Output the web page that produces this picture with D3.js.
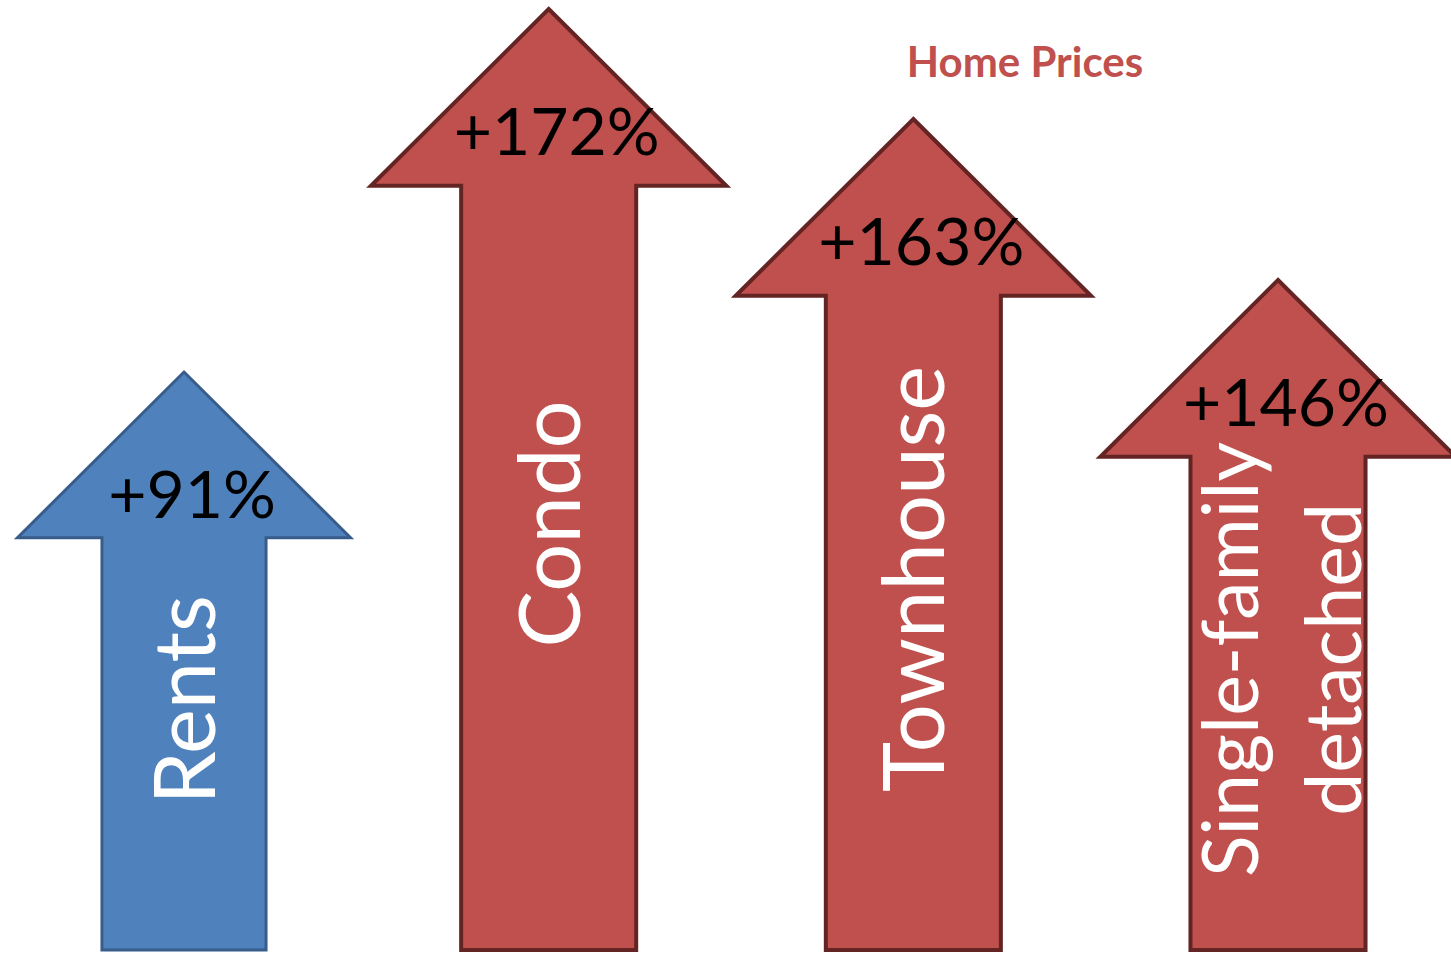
<!DOCTYPE html>
<html>
<head>
<meta charset="utf-8">
<script src="https://cdn.jsdelivr.net/npm/d3@7"></script>
<style>
  html, body { margin: 0; padding: 0; background: #fff; }
  svg { display: block; }
</style>
</head>
<body>
<svg id="chart"></svg>
<script>
// data
const categories = ["Rents", "Condo", "Townhouse", "Single-family detached"];
const labelLines = [["Rents"], ["Condo"], ["Townhouse"], ["Single-family", "detached"]];
const changes = [91, 172, 163, 146];
const groups = ["Rents", "Home Prices", "Home Prices", "Home Prices"];
const groupTitle = "Home Prices";

const width = 1451;
const height = 953;

const palette = {
    "Rents": { fill: "#4f81bd", stroke: "#385d8a", sw: 3, shaft: 0.45 },
    "Home Prices": { fill: "#c0504d", stroke: "#632423", sw: 4, shaft: 0.48 }
};

const rows = categories.map((c, i) => ({
    name: c,
    lines: labelLines[i],
    value: changes[i],
    group: groups[i]
}));

const svg = d3.select("#chart")
    .attr("width", width)
    .attr("height", height);

const xScale = d3.scalePoint()
    .domain(categories)
    .range([184, 1278]);

// arrows are drawn as a pictograph: tip heights are not proportional,
// so the scale is piecewise over the sorted values
const sortedVals = [0, ...d3.sort(changes)];
const yScale = d3.scaleLinear()
    .domain(sortedVals)
    .range([950, 372, 280, 119, 9]);

const line = d3.line();

function dims(d) {
    const shaftW = xScale.step() * palette[d.group].shaft;
    return { shaftW, headW: shaftW * 2.03, headH: shaftW * 1.01 };
}

function arrowPoints(d) {
    const { shaftW, headW, headH } = dims(d);
    const cx = xScale(d.name);
    const tip = yScale(d.value);
    const base = tip + headH;
    const bottom = yScale(0);
    return [
        [cx, tip],
        [cx + headW / 2, base],
        [cx + shaftW / 2, base],
        [cx + shaftW / 2, bottom],
        [cx - shaftW / 2, bottom],
        [cx - shaftW / 2, base],
        [cx - headW / 2, base]
    ];
}

const arrows = svg.selectAll(".arrow")
    .data(rows)
    .enter()
    .append("g")
    .attr("class", "arrow");

arrows.append("path")
    .attr("d", d => line(arrowPoints(d)) + "Z")
    .attr("fill", d => palette[d.group].fill)
    .attr("stroke", d => palette[d.group].stroke)
    .attr("stroke-width", d => palette[d.group].sw)
    .attr("stroke-linejoin", "miter");

// category name, rotated inside the shaft
const lineGap = 103;
arrows.each(function (d) {
    const cx = xScale(d.name);
    const base = yScale(d.value) + dims(d).headH;
    const cy = (base + yScale(0)) / 2 - 44;
    const n = d.lines.length;
    d3.select(this).selectAll(".name")
        .data(d.lines)
        .enter()
        .append("text")
        .attr("class", "name")
        .attr("transform", (t, i) =>
            `translate(${cx + 31 + (i - (n - 1) / 2) * lineGap}, ${cy}) rotate(-90)`)
        .attr("text-anchor", "middle")
        .attr("fill", "#ffffff")
        .style("font-family", "Lato, 'Open Sans', sans-serif")
        .style("font-size", n > 1 ? "77px" : "85px")
        .text(t => t);
});

// percent change
arrows.append("text")
    .attr("class", "pct")
    .attr("x", d => xScale(d.name) + 8)
    .attr("y", d => yScale(d.value) + 146)
    .attr("text-anchor", "middle")
    .attr("fill", "#000")
    .style("font-family", "Lato, 'Open Sans', sans-serif")
    .style("font-size", "66px")
    .text(d => `+${d.value}%`);

svg.append("text")
    .attr("x", 1025)
    .attr("y", 77)
    .attr("text-anchor", "middle")
    .attr("fill", palette["Home Prices"].fill)
    .style("font-family", "Lato, 'Open Sans', sans-serif")
    .style("font-weight", "bold")
    .style("font-size", "42px")
    .text(groupTitle);
</script>
</body>
</html>
